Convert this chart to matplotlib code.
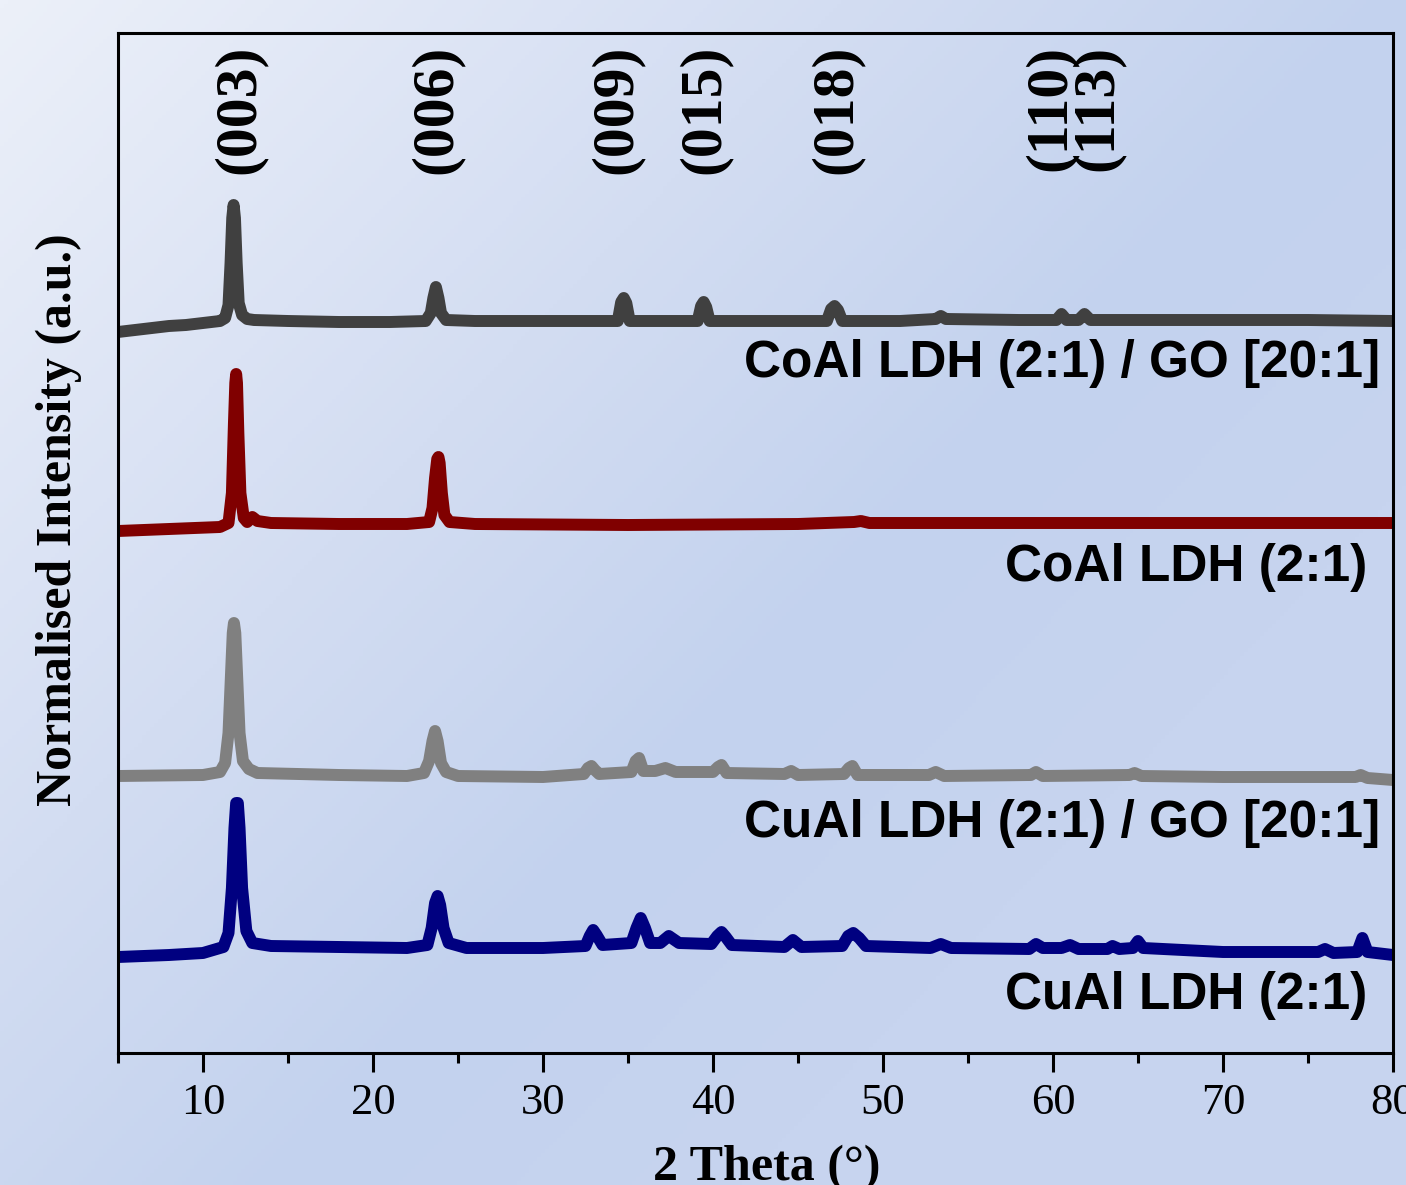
import numpy as np
import matplotlib
matplotlib.use("Agg")
import matplotlib.pyplot as plt
from matplotlib.colors import LinearSegmentedColormap

# ---------------- data ----------------
# CoAl LDH (2:1) / GO [20:1]
coal_go_x = [5, 6, 7, 8, 9, 10, 11, 11.3, 11.5, 11.62, 11.72, 11.8, 11.88, 11.98, 12.1, 12.3, 12.6, 13, 15, 18, 21,
             23.1, 23.4, 23.55, 23.7, 23.85, 24.0, 24.3, 26, 30, 34.4, 34.6, 34.75, 34.9, 35.1, 37,
             39.1, 39.3, 39.45, 39.6, 39.8, 43, 46.7, 46.95, 47.15, 47.35, 47.6, 51,
             53.1, 53.4, 53.7, 58, 60.2, 60.5, 60.8, 61.5, 61.85, 62.2, 66, 70, 75, 80]
coal_go_y = [721, 723, 725, 727, 728, 730, 732, 735, 748, 790, 835, 848, 835, 790, 750, 738, 734, 733, 732, 731, 731,
             732, 740, 755, 766, 755, 740, 733, 732, 732, 732, 751, 755, 750, 732, 732,
             732, 747, 751, 746, 732, 732, 732, 744, 747, 743, 732, 732,
             734, 737, 734, 733, 733, 739, 733, 733, 739, 733, 733, 733, 733, 732]

# CoAl LDH (2:1)
coal_x = [5, 8, 11, 11.5, 11.7, 11.82, 11.9, 11.95, 12.0, 12.08, 12.2, 12.4, 12.6, 12.9, 13.2, 14, 18, 22,
          23.3, 23.5, 23.65, 23.78, 23.85, 23.92, 24.05, 24.2, 24.5, 26, 35, 45, 48.3, 48.7, 49.2, 55, 65, 75, 80]
coal_y = [522, 524, 526, 530, 560, 630, 670, 679, 670, 620, 560, 535, 531, 536, 532, 530, 529, 529,
          531, 545, 575, 594, 596, 590, 560, 538, 531, 529, 528, 529, 531, 532, 530, 530, 530, 530, 530]

# CuAl LDH (2:1) / GO [20:1]
cual_go_x = [5, 10, 11.0, 11.3, 11.5, 11.65, 11.75, 11.82, 11.9, 12.0, 12.15, 12.35, 12.7, 13.2, 18, 22,
             23.0, 23.3, 23.5, 23.65, 23.8, 24.0, 24.3, 25, 30, 32.4, 32.65, 32.85, 33.05, 33.3, 35.2, 35.45, 35.65, 35.9,
             36.6, 37.2, 37.8, 40.0, 40.3, 40.5, 40.8, 44.2, 44.6, 45.0, 47.7, 48.0, 48.2, 48.5,
             52.7, 53.1, 53.6, 58.7, 59.0, 59.4, 64.5, 64.8, 65.2, 70, 77.8, 78.1, 78.5, 80]
cual_go_y = [277, 278, 281, 290, 320, 380, 420, 430, 420, 380, 320, 292, 284, 280, 278, 277,
             280, 292, 312, 322, 312, 290, 281, 277, 276, 279, 285, 287, 283, 279, 281, 292, 295, 282,
             282, 285, 281, 281, 286, 288, 280, 279, 282, 278, 279, 285, 287, 278,
             278, 281, 277, 278, 281, 277, 278, 280, 277, 276, 276, 278, 275, 273]

# CuAl LDH (2:1)
cual_x = [5, 8, 10, 11.2, 11.5, 11.7, 11.85, 11.95, 12.05, 12.15, 12.3, 12.55, 12.9, 14, 18, 22,
          23.2, 23.45, 23.65, 23.8, 23.95, 24.15, 24.45, 25.5, 30, 32.5, 32.75, 32.95, 33.15, 33.5,
          35.2, 35.5, 35.75, 36.0, 36.3, 36.9, 37.4, 38.0, 39.9, 40.25, 40.5, 40.75, 41.1,
          44.2, 44.7, 45.2, 47.6, 47.95, 48.25, 48.6, 49.0, 52.8, 53.4, 54.0,
          58.6, 59.0, 59.4, 60.5, 61.0, 61.5, 63.2, 63.5, 63.9, 64.7, 65.0, 65.3,
          70, 75.6, 76.0, 76.5, 77.9, 78.2, 78.5, 80]
cual_y = [96, 98, 100, 106, 120, 165, 225, 250, 250, 225, 165, 122, 110, 107, 106, 105,
          108, 125, 150, 157, 148, 125, 110, 105, 105, 107, 117, 123, 118, 108,
          110, 125, 135, 125, 110, 110, 117, 110, 109, 117, 121, 116, 108,
          106, 113, 106, 107, 117, 120, 115, 107, 105, 109, 105,
          104, 109, 105, 105, 108, 104, 104, 107, 104, 105, 112, 105,
          101, 101, 104, 100, 101, 115, 101, 98]

series_x = [coal_go_x, coal_x, cual_go_x, cual_x]
series_y = [coal_go_y, coal_y, cual_go_y, cual_y]
series_names = ["CoAl LDH (2:1) / GO [20:1]", "CoAl LDH (2:1)",
                "CuAl LDH (2:1) / GO [20:1]", "CuAl LDH (2:1)"]
series_colors = ["#404040", "#800000", "#808080", "#000080"]

# Miller index labels
hkl_labels = ["(003)", "(006)", "(009)", "(015)", "(018)", "(110)", "(113)"]
hkl_pos = [12.18, 23.76, 34.35, 39.53, 47.29, 59.88, 62.65]

xticks = [10, 20, 30, 40, 50, 60, 70, 80]

# ---------------- figure ----------------
fig = plt.figure(figsize=(14.06, 11.85), dpi=100)

# gradient background
bg = fig.add_axes([0, 0, 1, 1], zorder=-10)
ny, nx = 300, 356
yy, xx = np.mgrid[0:1:ny*1j, 0:1:nx*1j]
t = np.clip((xx * 0.75 + yy * 0.6) / 1.0, 0, 1)
cmap = LinearSegmentedColormap.from_list(
    "bgc", [(0.0, "#ecf0f9"), (0.45, "#d3ddf2"), (0.75, "#c3d2ee"), (1.0, "#c7d4ef")])
bg.imshow(cmap(t), aspect="auto", extent=[0, 1, 0, 1], origin="upper")
bg.axis("off")

ax = fig.add_axes([118/1406, 1 - 1053/1185, 1275/1406, 1020/1185])
ax.set_facecolor("none")

for xs, ys, c in zip(series_x, series_y, series_colors):
    ax.plot(xs, ys, color=c, lw=8.6, solid_joinstyle="round", solid_capstyle="round",
            clip_on=True)

ax.set_xlim(5, 80)
ax.set_ylim(0, 1020)

ax.set_xticks(xticks)
ax.set_xticks(np.arange(5, 81, 10), minor=True)
ax.set_yticks([])
ax.tick_params(axis="x", which="major", direction="out", length=13.5, width=2.2,
               labelsize=32, pad=8)
ax.tick_params(axis="x", which="minor", direction="out", length=7, width=2.2)
for lab in ax.get_xticklabels():
    lab.set_fontfamily("Liberation Serif")
for s in ax.spines.values():
    s.set_linewidth(2.2)

ax.set_xlabel("2 Theta (°)", fontfamily="Liberation Serif", fontweight="bold", fontsize=36)
ax.xaxis.set_label_coords(0.509, -0.090)
ax.set_ylabel("Normalised Intensity (a.u.)", fontfamily="Liberation Serif",
              fontweight="bold", fontsize=36)
ax.yaxis.set_label_coords(-0.028, 0.5225)

# curve names
name_pos = [(79.24, 690), (78.47, 485), (79.24, 230), (78.47, 57)]
for (nxp, nyp), name in zip(name_pos, series_names):
    ax.text(nxp, nyp, name, ha="right", va="center", fontsize=37,
            fontfamily="Liberation Sans", fontweight="bold", color="black")

for lbl, p in zip(hkl_labels, hkl_pos):
    ax.text(p, 1008, lbl, rotation=90, ha="center", va="top", fontsize=43,
            fontfamily="Liberation Serif", fontweight="bold")

fig.savefig("out.png", dpi=100)
